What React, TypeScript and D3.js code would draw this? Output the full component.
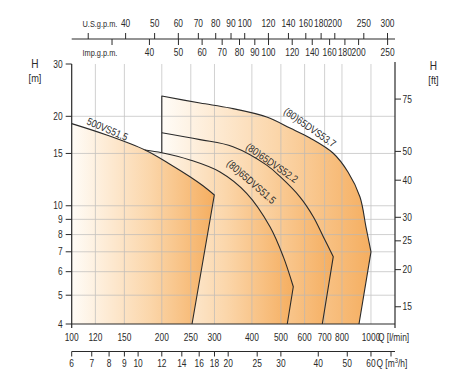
import React from 'react';
import * as d3 from 'd3';

// ---- axis data ----
const qTicks = [100, 120, 150, 200, 250, 300, 400, 500, 600, 700, 800, 1000];
const hTicks = [4, 5, 6, 7, 8, 9, 10, 15, 20, 30];
const hGrid = [5, 6, 7, 8, 9, 10, 15, 20];
const ftTicks = [15, 20, 25, 30, 40, 50, 75];
const m3hTicks = [6, 7, 8, 9, 10, 12, 14, 16, 18, 20, 25, 30, 40, 50, 60, 70];
const m3hLabels = ['6', '7', '8', '9', '10', '12', '14', '16', '18', '20', '25', '30', '40', '50', '60', ''];
const usTicks = [30, 40, 50, 60, 70, 80, 90, 100, 120, 140, 160, 180, 200, 250, 300];
const usLabels = ['', '40', '50', '60', '70', '80', '90', '100', '120', '140', '160', '180', '200', '250', '300'];
const impTicks = [30, 40, 50, 60, 70, 80, 90, 100, 120, 140, 160, 180, 200, 250];
const impLabels = ['', '40', '50', '60', '70', '80', '90', '100', '120', '140', '160', '180', '200', '250'];

// ---- curves (Q in l/min, H in m) ----
const c537Q = [200, 268.4, 338, 448.3, 536.3, 625.6, 746.4, 837.8, 918.9, 962.4, 1000];
const c537H = [23.41, 22.17, 21.33, 19.9, 18.27, 16.91, 15.05, 12.99, 10.7, 8.48, 7.0];
const c537Bottom = 912;

const c522Q = [200, 268.4, 345.9, 448.3, 496.6, 579.1, 641.6, 692.9, 748.2];
const c522H = [17.62, 16.7, 15.8, 13.7, 12.55, 10.7, 9.19, 7.87, 6.74];
const c522Bottom = 687.6;

const c515Q = [175.8, 200, 248.5, 313.1, 384.3, 459.8, 509.3, 550.1];
const c515H = [15.4, 15.08, 14.26, 12.99, 11.01, 8.5, 6.74, 5.34];
const c515Bottom = 525.2;

const c500Q = [100, 130.9, 175.8, 213, 248.5, 275.3, 299.6];
const c500H = [18.9, 17.3, 15.4, 13.8, 12.52, 11.65, 10.87];
const c500Bottom = 252.4;

const curveNames = ['(80)65DVS53.7', '(80)65DVS52.2', '(80)65DVS51.5', '500VS51.5'];

const FONT = "'Liberation Sans',Arial,sans-serif";
const INK = '#2a2a2a';
const GRID = '#b8b8b8';
const SQ = 0.84; // horizontal condensing of the narrow type

type TP = {
  x: number;
  y: number;
  anchor?: 'start' | 'middle' | 'end';
  size?: number;
  rotate?: number;
  children?: React.ReactNode;
};

function T({ x, y, anchor = 'middle', size = 10, rotate = 0, children }: TP) {
  return (
    <text
      transform={`translate(${x},${y}) rotate(${rotate}) scale(${SQ},1)`}
      textAnchor={anchor}
      fontSize={size}
      fill={INK}
    >
      {children}
    </text>
  );
}

export default function App() {
  const qMin = 100;
  const qMax = 1203;
  const x = d3.scaleLog().domain([qMin, qMax]).range([71.7, 395]);
  const y = d3.scaleLog().domain([4, 30]).range([324, 64]);
  const yFt = d3.scaleLog().domain([4 / 0.3048, 30 / 0.3048]).range([324, 64]);
  const xM3 = d3.scaleLog().domain([qMin * 0.06, qMax * 0.06]).range([71.7, 395]);
  const xUs = d3.scaleLog().domain([qMin / 3.78541, qMax / 3.78541]).range([71.7, 395]);
  const xImp = d3.scaleLog().domain([qMin / 4.54609, qMax / 4.54609]).range([71.7, 395]);

  const line = d3
    .line<[number, number]>()
    .x((d) => x(d[0]))
    .y((d) => y(d[1]))
    .curve(d3.curveCatmullRom.alpha(0.5));

  const pts = (qs: number[], hs: number[]) => qs.map((q, i) => [q, hs[i]] as [number, number]);

  const regions = [
    { id: 'g537', qs: c537Q, hs: c537H, bottom: c537Bottom },
    { id: 'g522', qs: c522Q, hs: c522H, bottom: c522Bottom },
    { id: 'g515', qs: c515Q, hs: c515H, bottom: c515Bottom },
    { id: 'g500', qs: c500Q, hs: c500H, bottom: c500Bottom },
  ];

  const fillPath = (r: typeof regions[0]) =>
    (line(pts(r.qs, r.hs)) as string) +
    `L${x(r.bottom)},${y(4)}L${x(r.qs[0])},${y(4)}Z`;

  const strokePath = (r: typeof regions[0], startH?: number) => {
    const body = line(pts(r.qs, r.hs)) as string;
    const head = startH !== undefined ? `M${x(r.qs[0])},${y(startH)}L` + body.slice(1) : body;
    return head + `L${x(r.bottom)},${y(4)}`;
  };

  const yTop = y(30);
  const yBot = y(4);
  const xL = x(qMin);
  const xR = x(qMax);
  const topAxisY = 39;
  const m3AxisY = 351.5;

  const labels = [
    { t: curveNames[0], cx: 308, cy: 127, r: 35 },
    { t: curveNames[1], cx: 270, cy: 162.5, r: 35 },
    { t: curveNames[2], cx: 249, cy: 181, r: 41 },
    { t: curveNames[3], cx: 106, cy: 129, r: 23 },
  ];

  return (
    <svg width={450} height={376} style={{ position: 'absolute', left: 0, top: 0, background: '#fff' }} fontFamily={FONT}>
      <defs>
        {regions.map((r) => (
          <linearGradient key={r.id} id={r.id} x1="0" x2="1" y1="0" y2="0">
            <stop offset="0" stopColor="#fffcf7" />
            <stop offset="0.55" stopColor="#fbd6aa" />
            <stop offset="1" stopColor="#f5ae60" />
          </linearGradient>
        ))}
      </defs>

      {/* fills, back to front */}
      {regions.map((r) => (
        <path key={r.id} d={fillPath(r)} fill={`url(#${r.id})`} />
      ))}

      {/* grid */}
      <g stroke={GRID} strokeWidth={0.8} opacity={0.8}>
        {qTicks.slice(1).map((q) => (
          <line key={q} x1={x(q)} x2={x(q)} y1={yTop} y2={yBot} />
        ))}
        {hGrid.map((h) => (
          <line key={h} x1={xL} x2={xR} y1={y(h)} y2={y(h)} />
        ))}
      </g>

      {/* curve outlines */}
      <g fill="none" stroke={INK} strokeWidth={1.1} strokeLinejoin="round">
        <path d={strokePath(regions[0], c515H[1])} />
        <path d={strokePath(regions[1])} />
        <path d={strokePath(regions[2])} />
        <path d={strokePath(regions[3])} />
      </g>

      {/* curve labels */}
      {labels.map((l) => (
        <T key={l.t} x={l.cx} y={l.cy + 3.5} rotate={l.r} size={10.5}>
          {l.t}
        </T>
      ))}

      {/* frame axes */}
      <g stroke={INK} strokeWidth={1.2}>
        <line x1={xL} x2={xL} y1={yTop} y2={yBot + 4} />
        <line x1={xR} x2={xR} y1={yTop - 2} y2={yBot + 4} />
        <line x1={xL} x2={xR} y1={yBot} y2={yBot} />
      </g>

      {/* left axis */}
      {hTicks.map((h) => (
        <g key={'h' + h}>
          <line x1={xL - 6} x2={xL} y1={y(h)} y2={y(h)} stroke={INK} strokeWidth={1} />
          <T x={xL - 9} y={y(h) + 3.5} anchor="end">
            {h}
          </T>
        </g>
      ))}
      <T x={35} y={68} size={12}>H</T>
      <T x={35} y={82} size={11}>[m]</T>

      {/* right axis (ft) */}
      {ftTicks.map((f) => (
        <g key={'f' + f}>
          <line x1={xR} x2={xR + 6} y1={yFt(f)} y2={yFt(f)} stroke={INK} strokeWidth={1} />
          <T x={xR + 7.5} y={yFt(f) + 3.5} anchor="start">
            {f}
          </T>
        </g>
      ))}
      <T x={433.5} y={70} size={12}>H</T>
      <T x={433.5} y={84} size={11}>[ft]</T>

      {/* bottom l/min labels */}
      {qTicks.map((q) => (
        <T key={'q' + q} x={x(q)} y={341}>
          {q}
        </T>
      ))}
      <T x={x(1000) + 7} y={341} anchor="start">Q [l/min]</T>

      {/* m3/h axis */}
      <line x1={xL} x2={xR} y1={m3AxisY} y2={m3AxisY} stroke={INK} strokeWidth={1.1} />
      {m3hTicks.map((m, i) => (
        <g key={'m' + m}>
          <line x1={xM3(m)} x2={xM3(m)} y1={m3AxisY} y2={m3AxisY + 5} stroke={INK} strokeWidth={1} />
          <T x={xM3(m)} y={367}>
            {m3hLabels[i]}
          </T>
        </g>
      ))}
      <T x={xM3(60) + 5.5} y={367} anchor="start">
        Q [m<tspan dy={-4} fontSize={7}>3</tspan>
        <tspan dy={4}>/h]</tspan>
      </T>

      {/* top gpm axes */}
      <line x1={xL} x2={xR} y1={topAxisY} y2={topAxisY} stroke={INK} strokeWidth={1.1} />
      {usTicks.map((u, i) => (
        <g key={'u' + u}>
          <line x1={xUs(u)} x2={xUs(u)} y1={topAxisY - 6} y2={topAxisY} stroke={INK} strokeWidth={1} />
          <T x={xUs(u)} y={27}>
            {usLabels[i]}
          </T>
        </g>
      ))}
      {impTicks.map((u, i) => (
        <g key={'i' + u}>
          <line x1={xImp(u)} x2={xImp(u)} y1={topAxisY} y2={topAxisY + 6} stroke={INK} strokeWidth={1} />
          <T x={xImp(u)} y={56}>
            {impLabels[i]}
          </T>
        </g>
      ))}
      <T x={82.5} y={27} size={8.8} anchor="start">U.S.g.p.m.</T>
      <T x={82.5} y={56} size={8.8} anchor="start">Imp.g.p.m.</T>
    </svg>
  );
}
